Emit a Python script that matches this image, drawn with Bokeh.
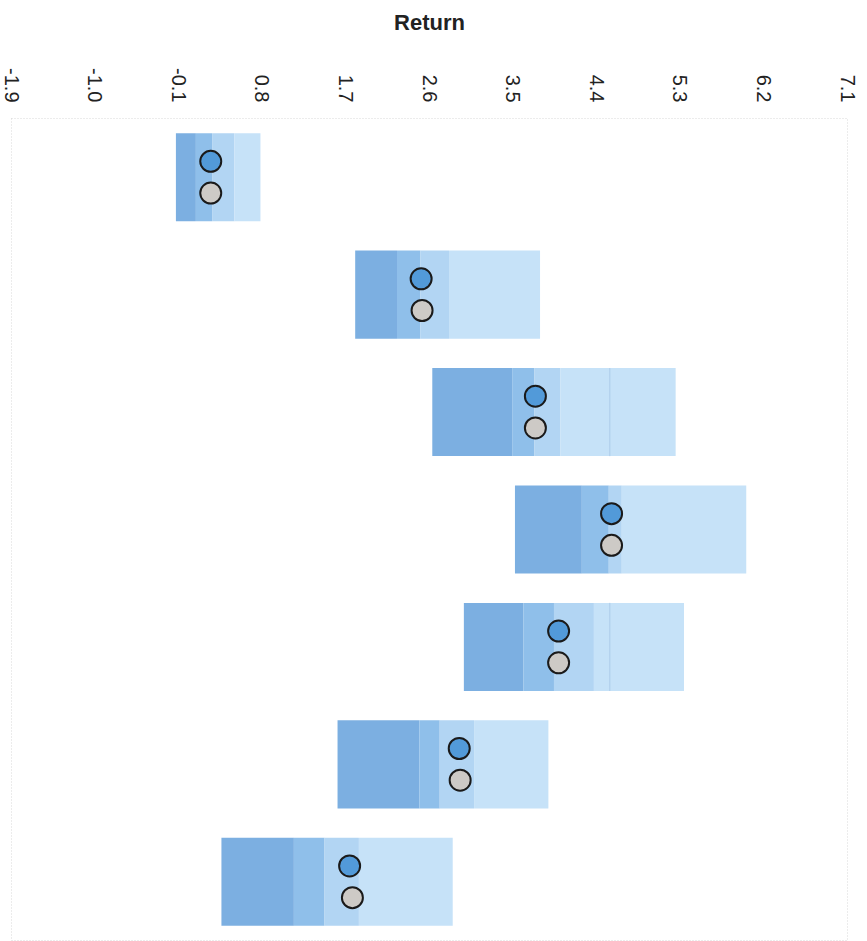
import math
from bokeh.plotting import figure
from bokeh.models import FactorRange, Range1d, FixedTicker, ColumnDataSource, NumeralTickFormatter
from bokeh.transform import dodge
from bokeh.embed import file_html
from bokeh.resources import INLINE

# ---- data ----
rows = ["1", "2", "3", "4", "5", "6", "7"]
p05 = [-0.13, 1.80, 2.63, 3.52, 2.97, 1.61, 0.36]
p25 = [0.085, 2.25, 3.49, 4.24, 3.61, 2.49, 1.14]
p50 = [0.26, 2.50, 3.73, 4.53, 3.94, 2.71, 1.47]
p75 = [0.50, 2.81, 4.01, 4.67, 4.37, 3.08, 1.84]
p95 = [0.78, 3.79, 5.25, 6.01, 5.34, 3.88, 2.85]
blue_pts = [0.245, 2.51, 3.74, 4.56, 3.99, 2.92, 1.74]
grey_pts = [0.245, 2.52, 3.74, 4.56, 3.99, 2.93, 1.77]
mark_rows = ["3", "5"]
mark_vals = [4.54, 4.54]
tick_vals = [-1.9, -1.0, -0.1, 0.8, 1.7, 2.6, 3.5, 4.4, 5.3, 6.2, 7.1]

src = ColumnDataSource(dict(row=rows, p05=p05, p25=p25, p50=p50, p75=p75, p95=p95,
                            blue=blue_pts, grey=grey_pts))

p = figure(width=865, height=941,
           x_range=Range1d(-1.9, 7.1), y_range=FactorRange(factors=rows[::-1], range_padding=0),
           x_axis_location="above", y_axis_location=None,
           output_backend="svg", toolbar_location=None,
           min_border_left=11, min_border_right=18, min_border_bottom=1, min_border_top=118)
p.y_range.range_padding = 0

seg_colors = ["#7cafe1", "#8fbfea", "#b2d5f3", "#c6e2f8"]
bounds = [("p05", "p25"), ("p25", "p50"), ("p50", "p75"), ("p75", "p95")]
for (l, r), c in zip(bounds, seg_colors):
    p.hbar(y="row", left=l, right=r, height=0.75, source=src,
           fill_color=c, line_color=None)

p.hbar(y=mark_rows, left=[v - 0.008 for v in mark_vals], right=[v + 0.008 for v in mark_vals],
       height=0.75, fill_color="#b4d2ee", line_color=None)

p.scatter(x="blue", y=dodge("row", 0.135, range=p.y_range), source=src, size=21,
          fill_color="#529ad9", line_color="#1a1a1a", line_width=2)
p.scatter(x="grey", y=dodge("row", -0.135, range=p.y_range), source=src, size=21,
          fill_color="#cdcac6", line_color="#1a1a1a", line_width=2)

ax = p.xaxis[0]
ax.ticker = FixedTicker(ticks=tick_vals)
ax.formatter = NumeralTickFormatter(format="0.0")
ax.major_label_orientation = -math.pi / 2
ax.major_label_text_font = "Liberation Sans"
ax.major_label_text_font_size = "20px"
ax.major_label_text_color = "#222222"
ax.major_label_standoff = 16
ax.major_tick_out = 0
ax.major_tick_in = 0
ax.minor_tick_out = 0
ax.minor_tick_in = 0
ax.major_tick_line_color = None
ax.minor_tick_line_color = None
ax.axis_line_color = None
ax.axis_label = "Return"
ax.axis_label_text_font = "Liberation Sans"
ax.axis_label_text_font_style = "bold"
ax.axis_label_text_font_size = "22px"
ax.axis_label_text_color = "#222222"
ax.axis_label_standoff = 30

p.xgrid.grid_line_color = None
p.ygrid.grid_line_color = None
p.outline_line_color = "#d9d9d9"
p.outline_line_dash = "1 2"
p.outline_line_width = 1
p.background_fill_color = "white"
p.border_fill_color = "white"

open("out.html", "w").write(file_html(p, INLINE))
